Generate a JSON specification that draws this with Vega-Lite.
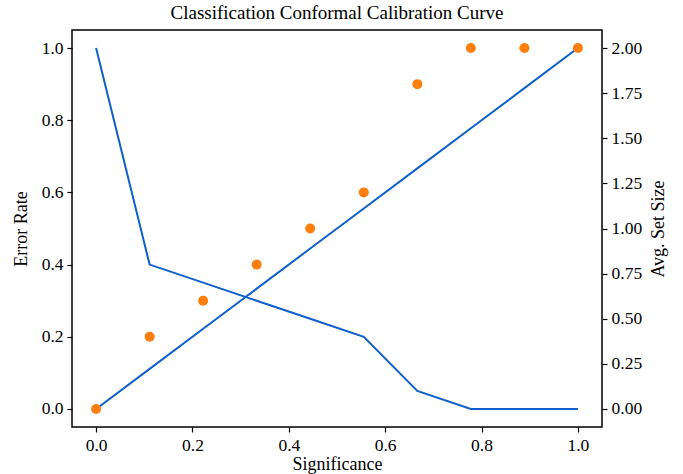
{
  "$schema": "https://vega.github.io/schema/vega-lite/v6.json",
  "width": 530,
  "height": 397,
  "autosize": {"type": "none"},
  "padding": {"left": 72, "top": 30, "right": 81, "bottom": 47},
  "background": "white",
  "config": {
    "font": "Liberation Serif",
    "view": {"stroke": "black", "strokeWidth": 1.5},
    "axis": {
      "grid": false,
      "domain": false,
      "tickColor": "black",
      "tickSize": 5,
      "tickWidth": 1.2,
      "labelFont": "Liberation Serif",
      "labelFontSize": 17.5,
      "labelColor": "black",
      "titleFont": "Liberation Serif",
      "titleFontSize": 18,
      "titleFontWeight": "normal",
      "titleColor": "black",
      "labelPadding": 4
    },
    "title": {"font": "Liberation Serif", "fontSize": 19, "fontWeight": "normal", "color": "black", "offset": 7}
  },
  "title": {"text": "Classification Conformal Calibration Curve", "anchor": "middle"},
  "data": {
    "values": [
      {"sig": 0.0, "error": 0.0, "ideal": 0.0, "setsize": 2.0},
      {"sig": 0.1111, "error": 0.2, "ideal": 0.1111, "setsize": 0.8},
      {"sig": 0.2222, "error": 0.3, "ideal": 0.2222, "setsize": 0.7},
      {"sig": 0.3333, "error": 0.4, "ideal": 0.3333, "setsize": 0.6},
      {"sig": 0.4444, "error": 0.5, "ideal": 0.4444, "setsize": 0.5},
      {"sig": 0.5556, "error": 0.6, "ideal": 0.5556, "setsize": 0.4},
      {"sig": 0.6667, "error": 0.9, "ideal": 0.6667, "setsize": 0.1},
      {"sig": 0.7778, "error": 1.0, "ideal": 0.7778, "setsize": 0.0},
      {"sig": 0.8889, "error": 1.0, "ideal": 0.8889, "setsize": 0.0},
      {"sig": 1.0, "error": 1.0, "ideal": 1.0, "setsize": 0.0}
    ]
  },
  "encoding": {
    "x": {
      "field": "sig",
      "type": "quantitative",
      "title": "Significance",
      "scale": {"domain": [-0.05, 1.05], "nice": false, "zero": false},
      "axis": {"values": [0, 0.2, 0.4, 0.6, 0.8, 1.0], "format": ".1f", "titlePadding": 2}
    }
  },
  "layer": [
    {
      "layer": [
        {
          "mark": {"type": "line", "color": "#0f5fcc", "strokeWidth": 2},
          "encoding": {
            "y": {
              "field": "ideal",
              "type": "quantitative",
              "title": "Error Rate",
              "scale": {"domain": [-0.05, 1.05], "nice": false, "zero": false},
              "axis": {"orient": "left", "values": [0, 0.2, 0.4, 0.6, 0.8, 1.0], "format": ".1f", "titlePadding": 11}
            }
          }
        },
        {
          "mark": {"type": "point", "filled": true, "color": "#ff7f0e", "opacity": 1, "size": 100},
          "encoding": {
            "y": {"field": "error", "type": "quantitative"}
          }
        }
      ]
    },
    {
      "mark": {"type": "line", "color": "#0f5fcc", "strokeWidth": 2},
      "encoding": {
        "y": {
          "field": "setsize",
          "type": "quantitative",
          "title": "Avg. Set Size",
          "scale": {"domain": [-0.1, 2.1], "nice": false, "zero": false},
          "axis": {"orient": "right", "titleAngle": -90, "titleBaseline": "top", "values": [0, 0.25, 0.5, 0.75, 1.0, 1.25, 1.5, 1.75, 2.0], "format": ".2f", "titlePadding": 8}
        }
      }
    }
  ],
  "resolve": {"scale": {"y": "independent"}}
}
